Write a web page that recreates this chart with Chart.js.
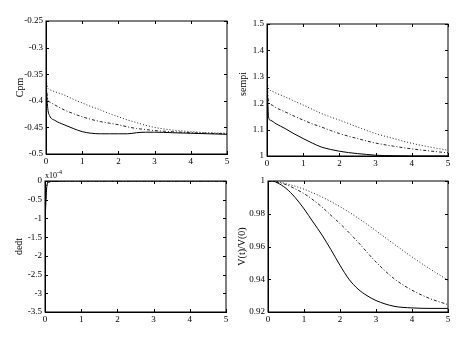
<!DOCTYPE html>
<html>
<head>
<meta charset="utf-8">
<script src="https://cdn.jsdelivr.net/npm/chart.js@4"></script>
<style>
  html, body { margin: 0; padding: 0; background: #fff; }
  #wrap { position: relative; width: 472px; height: 343px; }
  #wrap canvas { position: absolute; left: 0; top: 0; }
</style>
</head>
<body>
<div id="wrap">
  <canvas id="c1" width="472" height="343"></canvas>
  <canvas id="c2" width="472" height="343"></canvas>
  <canvas id="c3" width="472" height="343"></canvas>
  <canvas id="c4" width="472" height="343"></canvas>
</div>
<script>
// Time samples shared by every curve
const time = [0, 0.05, 0.1, 0.25, 0.5, 0.75, 1, 1.25, 1.5, 1.75, 2, 2.25, 2.5, 2.75, 3, 3.5, 4, 4.5, 5];

// Cpm for the three cases (solid, dash-dot, dotted)
const cpmA = [-0.365, -0.415, -0.428, -0.437, -0.445, -0.452, -0.458, -0.461, -0.462, -0.462, -0.462, -0.462, -0.460, -0.459, -0.459, -0.460, -0.461, -0.462, -0.463];
const cpmB = [-0.370, -0.398, -0.402, -0.408, -0.417, -0.424, -0.430, -0.435, -0.439, -0.442, -0.445, -0.449, -0.452, -0.454, -0.456, -0.458, -0.460, -0.461, -0.462];
const cpmC = [-0.360, -0.376, -0.379, -0.383, -0.389, -0.397, -0.404, -0.411, -0.417, -0.424, -0.430, -0.436, -0.441, -0.446, -0.450, -0.455, -0.458, -0.460, -0.461];

// sempi
const sempiA = [1.28, 1.142, 1.135, 1.122, 1.104, 1.084, 1.066, 1.049, 1.034, 1.025, 1.018, 1.013, 1.009, 1.006, 1.003, 1.001, 1.000, 1.000, 1.000];
const sempiB = [1.28, 1.199, 1.195, 1.183, 1.167, 1.151, 1.136, 1.122, 1.110, 1.097, 1.085, 1.075, 1.066, 1.057, 1.049, 1.037, 1.027, 1.019, 1.012];
const sempiC = [1.28, 1.252, 1.248, 1.238, 1.224, 1.208, 1.193, 1.177, 1.161, 1.148, 1.136, 1.123, 1.110, 1.097, 1.085, 1.066, 1.048, 1.034, 1.022];

// de/dt in units of 1e-4
const dedtA = [-1.1, -0.15, -0.03, -0.01, 0, 0, 0, 0, 0, 0, 0, 0, 0, 0, 0, 0, 0, 0, 0];
const dedtB = [-0.9, -0.12, -0.02, -0.01, 0, 0, 0, 0, 0, 0, 0, 0, 0, 0, 0, 0, 0, 0, 0];
const dedtC = [-0.7, -0.10, -0.02, -0.01, 0, 0, 0, 0, 0, 0, 0, 0, 0, 0, 0, 0, 0, 0, 0];

// V(t)/V(0)
const volA = [1.0, 1.0, 1.0, 0.999, 0.9955, 0.990, 0.983, 0.975, 0.967, 0.958, 0.9485, 0.940, 0.934, 0.930, 0.927, 0.9235, 0.9225, 0.9222, 0.9222];
const volB = [1.0, 1.0, 1.0, 0.9993, 0.9978, 0.9953, 0.9923, 0.9885, 0.9841, 0.979, 0.974, 0.9685, 0.9627, 0.9565, 0.9505, 0.9404, 0.9333, 0.9282, 0.9245];
const volC = [1.0, 1.0, 1.0, 0.9996, 0.9984, 0.9968, 0.995, 0.9927, 0.9902, 0.9874, 0.9843, 0.981, 0.9774, 0.9736, 0.9696, 0.9615, 0.9536, 0.9463, 0.9394];

// Tick labels for the x axes
const xTicks = [0, 1, 2, 3, 4, 5];

const SERIF = '"Liberation Serif", "DejaVu Serif", serif';
const W = 472, H = 343;
const Y_AXIS_W = 40, X_AXIS_H = 14;

const styles = [
  { borderDash: [], color: '#000' },
  { borderDash: [3, 2, 1, 2], color: '#222' },
  { borderDash: [1, 2], color: '#222' }
];

function pts(ys) { return time.map((t, i) => ({ x: t, y: ys[i] })); }
function shortNum(v) { return String(Number(v.toFixed(4))); }

// Inward tick marks on all four sides plus the closed box, and the axis caption
const framePlugin = {
  id: 'frame',
  afterDraw(chart, args, opts) {
    const { ctx, chartArea: a, scales } = chart;
    ctx.save();
    ctx.strokeStyle = '#000';
    ctx.lineWidth = 1;
    ctx.strokeRect(a.left, a.top, a.right - a.left, a.bottom - a.top);
    const L = 3;
    ctx.beginPath();
    scales.x.ticks.forEach(t => {
      const px = Math.round(scales.x.getPixelForValue(t.value)) + 0.5;
      ctx.moveTo(px, a.bottom); ctx.lineTo(px, a.bottom - L);
      ctx.moveTo(px, a.top); ctx.lineTo(px, a.top + L);
    });
    scales.y.ticks.forEach(t => {
      const py = Math.round(scales.y.getPixelForValue(t.value)) + 0.5;
      ctx.moveTo(a.left, py); ctx.lineTo(a.left + L, py);
      ctx.moveTo(a.right, py); ctx.lineTo(a.right - L, py);
    });
    ctx.stroke();

    // y caption
    ctx.fillStyle = '#000';
    ctx.font = '10px ' + SERIF;
    ctx.textAlign = 'center';
    ctx.textBaseline = 'middle';
    ctx.translate(a.left - opts.titleOffset, (a.top + a.bottom) / 2 + (opts.titleShift || 0));
    ctx.rotate(-Math.PI / 2);
    ctx.fillText(opts.title, 0, 0);
    ctx.restore();

    if (opts.exponent) {
      ctx.save();
      ctx.fillStyle = '#000';
      ctx.textBaseline = 'alphabetic';
      ctx.textAlign = 'left';
      ctx.font = '8px ' + SERIF;
      ctx.fillText('x10', a.left, a.top - 3);
      ctx.font = '6px ' + SERIF;
      ctx.fillText(opts.exponent, a.left + 12, a.top - 7);
      ctx.restore();
    }
  }
};

function makePanel(id, area, series, yMin, yMax, yStep, title, titleOffset, extra) {
  const datasets = series.map((ys, i) => ({
    data: pts(ys),
    borderColor: styles[i].color,
    borderWidth: 1,
    borderDash: styles[i].borderDash,
    pointRadius: 0,
    fill: false,
    cubicInterpolationMode: 'monotone'
  }));
  new Chart(document.getElementById(id), {
    type: 'line',
    data: { datasets },
    options: {
      responsive: false,
      animation: false,
      devicePixelRatio: 1,
      layout: {
        padding: {
          left: area.left - Y_AXIS_W,
          top: area.top,
          right: W - area.right,
          bottom: H - area.bottom - X_AXIS_H
        }
      },
      plugins: {
        legend: { display: false },
        tooltip: { enabled: false },
        frame: Object.assign({ title, titleOffset }, extra || {})
      },
      scales: {
        x: {
          type: 'linear',
          min: xTicks[0],
          max: xTicks[xTicks.length - 1],
          afterBuildTicks: s => { s.ticks = xTicks.map(v => ({ value: v })); },
          afterFit: s => { s.height = X_AXIS_H; },
          ticks: { color: '#000', font: { family: SERIF, size: 9 }, padding: 2, maxRotation: 0, callback: v => shortNum(v) },
          grid: { drawOnChartArea: false, drawTicks: false },
          border: { color: '#000', width: 1 }
        },
        y: {
          type: 'linear',
          min: yMin,
          max: yMax,
          afterFit: s => { s.width = Y_AXIS_W; },
          ticks: { stepSize: yStep, color: '#000', font: { family: SERIF, size: 9 }, padding: 3, callback: v => shortNum(v) },
          grid: { drawOnChartArea: false, drawTicks: false },
          border: { color: '#000', width: 1 }
        }
      }
    },
    plugins: [framePlugin]
  });
}

makePanel('c1', { left: 46, right: 227, top: 21, bottom: 154 }, [cpmA, cpmB, cpmC], -0.5, -0.25, 0.05, 'Cpm', 26);
makePanel('c2', { left: 267, right: 448, top: 24, bottom: 156 }, [sempiA, sempiB, sempiC], 1, 1.5, 0.1, 'sempi', 24, { titleShift: -6 });
makePanel('c3', { left: 45, right: 226, top: 181, bottom: 312 }, [dedtA, dedtB, dedtC], -3.5, 0, 0.5, 'dedt', 26, { exponent: '-4' });
makePanel('c4', { left: 268, right: 448, top: 181, bottom: 312 }, [volA, volB, volC], 0.92, 1, 0.02, 'V(t)/V(0)', 26);
</script>
</body>
</html>
